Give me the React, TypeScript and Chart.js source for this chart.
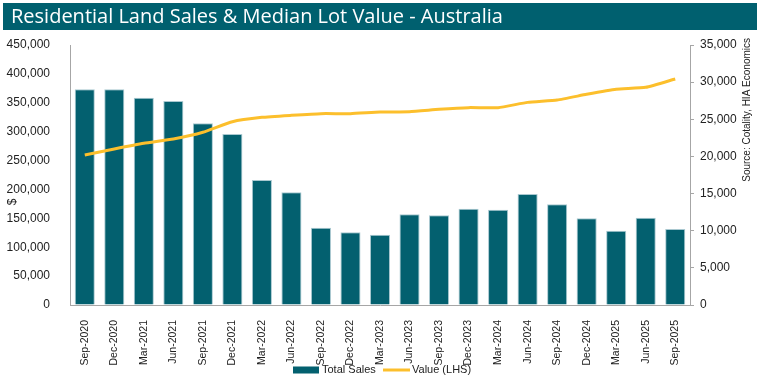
import React, { useEffect, useRef } from "react";
import { Chart, registerables } from "chart.js";

Chart.register(...registerables);

const categories = [
  "Sep-2020", "Dec-2020", "Mar-2021", "Jun-2021", "Sep-2021", "Dec-2021",
  "Mar-2022", "Jun-2022", "Sep-2022", "Dec-2022", "Mar-2023", "Jun-2023",
  "Sep-2023", "Dec-2023", "Mar-2024", "Jun-2024", "Sep-2024", "Dec-2024",
  "Mar-2025", "Jun-2025", "Sep-2025",
];

// Total sales (right axis)
const totalSales = [
  29040, 29040, 27900, 27460, 24460, 23020, 16830, 15170, 10410, 9780, 9470,
  12200, 12070, 12970, 12830, 14940, 13550, 11670, 10010, 11760, 10230,
];

// Median lot value (left axis)
const lotValue = [
  259600, 270000, 279800, 287300, 298900, 317300, 324800, 328300, 331200,
  331200, 334000, 334600, 338700, 341600, 341600, 350700, 354800, 364600,
  373300, 376700, 391200,
];

const leftMax = 450000;
const leftStep = 50000;
const rightMax = 35000;
const rightStep = 5000;

const TITLE = "Residential Land Sales & Median Lot Value - Australia";
const SOURCE = "Source: Cotality, HIA Economics";
const LEFT_TITLE = "$";
const SERIES_BARS = "Total Sales";
const SERIES_LINE = "Value (LHS)";

const TEAL = "#00606f";
const BAR = "#03606f";
const GOLD = "#fcbf2c";
const AXIS = "#a6a6a6";
const FONT = "'Liberation Sans', Arial, sans-serif";

const fmt = (v: number) => Number(v).toLocaleString("en-US");

export default function App() {
  const ref = useRef<HTMLCanvasElement | null>(null);

  useEffect(() => {
    if (!ref.current) return;
    const decor = {
      id: "decor",
      afterDraw(chart: any) {
        const ctx = chart.ctx as CanvasRenderingContext2D;
        ctx.save();
        // banner
        ctx.fillStyle = TEAL;
        ctx.fillRect(3, 3, 754, 27);
        ctx.fillStyle = "#ffffff";
        ctx.font = "20px 'Open Sans', Lato, sans-serif";
        ctx.textBaseline = "middle";
        ctx.textAlign = "left";
        ctx.fillText(TITLE, 11, 17);

        // $ title
        ctx.fillStyle = "#222";
        ctx.font = `12px ${FONT}`;
        ctx.save();
        ctx.translate(13, 202);
        ctx.rotate(-Math.PI / 2);
        ctx.textAlign = "center";
        ctx.textBaseline = "middle";
        ctx.fillText(LEFT_TITLE, 0, 0);
        ctx.restore();

        // source
        ctx.save();
        ctx.font = `10px ${FONT}`;
        ctx.translate(747, 38);
        ctx.rotate(-Math.PI / 2);
        ctx.textAlign = "right";
        ctx.textBaseline = "middle";
        ctx.fillText(SOURCE, 0, 0);
        ctx.restore();

        // legend
        const ly = 370;
        ctx.font = `11px ${FONT}`;
        ctx.textBaseline = "middle";
        ctx.textAlign = "left";
        ctx.fillStyle = BAR;
        ctx.fillRect(293, ly - 3.5, 26, 7);
        ctx.fillStyle = "#222";
        ctx.fillText(SERIES_BARS, 322, ly);
        ctx.strokeStyle = GOLD;
        ctx.lineWidth = 3;
        ctx.beginPath();
        ctx.moveTo(383, ly);
        ctx.lineTo(410, ly);
        ctx.stroke();
        ctx.fillStyle = "#222";
        ctx.fillText(SERIES_LINE, 412, ly);
        ctx.restore();
      },
    };

    const chart = new Chart(ref.current, {
      type: "bar",
      data: {
        labels: categories,
        datasets: [
          {
            type: "line",
            label: SERIES_LINE,
            data: lotValue,
            yAxisID: "y",
            borderColor: GOLD,
            backgroundColor: GOLD,
            borderWidth: 3,
            pointRadius: 0,
            tension: 0.15,
            order: 0,
          } as any,
          {
            type: "bar",
            label: SERIES_BARS,
            data: totalSales,
            yAxisID: "y1",
            backgroundColor: BAR,
            borderColor: "#a9c8d0",
            borderWidth: 1,
            categoryPercentage: 1,
            barPercentage: 0.68,
            order: 1,
          } as any,
        ],
      },
      options: {
        animation: false,
        responsive: false,
        maintainAspectRatio: false,
        layout: { padding: { top: 45, left: 0, right: 0, bottom: 0 } },
        plugins: { legend: { display: false }, tooltip: { enabled: false } },
        scales: {
          x: {
            grid: { display: false },
            border: { display: true, color: AXIS, width: 1 },
            ticks: {
              minRotation: 90,
              maxRotation: 90,
              autoSkip: false,
              padding: 7,
              color: "#222",
              font: { family: FONT, size: 10.5 },
            },
            afterFit: (s: any) => {
              s.height = 80;
            },
          },
          y: {
            position: "left",
            min: 0,
            max: leftMax,
            grid: { display: false },
            border: { display: true, color: AXIS, width: 1 },
            ticks: {
              stepSize: leftStep,
              padding: 12,
              color: "#222",
              font: { family: FONT, size: 12 },
              callback: (v: any) => fmt(v),
            },
            afterFit: (s: any) => {
              s.width = 70;
            },
          },
          y1: {
            position: "right",
            min: 0,
            max: rightMax,
            grid: {
              display: true,
              drawOnChartArea: false,
              drawTicks: true,
              tickLength: 4,
              color: AXIS,
            },
            border: { display: true, color: AXIS, width: 1 },
            ticks: {
              stepSize: rightStep,
              padding: 6,
              color: "#222",
              font: { family: FONT, size: 12 },
              callback: (v: any) => fmt(v),
            },
            afterFit: (s: any) => {
              s.width = 81;
            },
          },
        },
      },
      plugins: [decor],
    });
    return () => chart.destroy();
  }, []);

  return (
    <div style={{ position: "absolute", left: 0, top: 0, width: 771, height: 385, background: "#fff" }}>
      <canvas ref={ref} width={771} height={385} style={{ display: "block", width: 771, height: 385 }} />
    </div>
  );
}
